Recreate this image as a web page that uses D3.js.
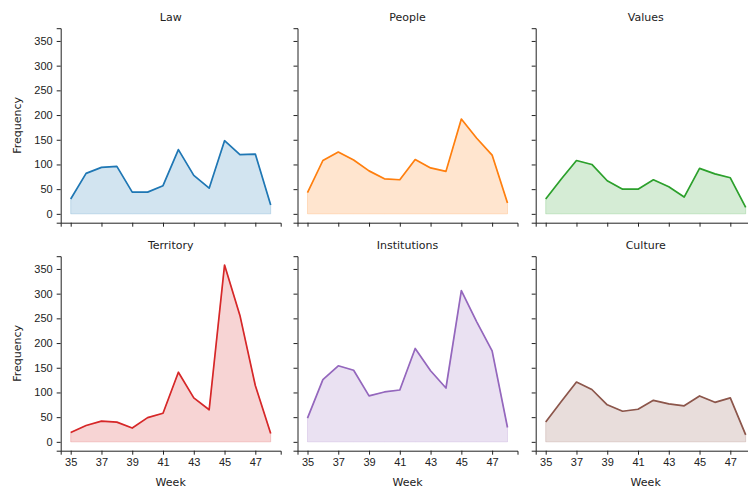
<!DOCTYPE html>
<html>
<head>
<meta charset="utf-8">
<script src="https://cdn.jsdelivr.net/npm/d3@7"></script>
<style>
  body { margin: 0; background: #fff; }
  svg { display: block; font-family: "DejaVu Sans", sans-serif; }
  .tick text { font-size: 11px; fill: #222; }
  .domain, .tick line { stroke: #222; }
</style>
</head>
<body>
<svg id="chart" width="748" height="488"></svg>
<script>
const weeks = [35, 36, 37, 38, 39, 40, 41, 42, 43, 44, 45, 46, 47, 48];
const categories = ["Law", "People", "Values", "Territory", "Institutions", "Culture"];
const colors = ["#1f77b4", "#ff7f0e", "#2ca02c", "#d62728", "#9467bd", "#8c564b"];
const law = [30, 82, 94, 96, 44, 44, 57, 130, 78, 52, 148, 120, 121, 18];
const people = [43, 108, 125, 109, 87, 71, 69, 110, 93, 86, 192, 153, 119, 22];
const values = [30, 70, 108, 100, 67, 50, 50, 69, 55, 34, 92, 81, 73, 13];
const territory = [19, 33, 42, 40, 28, 49, 58, 141, 89, 65, 358, 256, 114, 17];
const institutions = [48, 126, 154, 145, 93, 101, 105, 189, 144, 109, 306, 243, 184, 29];
const culture = [40, 81, 121, 106, 75, 62, 66, 84, 77, 73, 93, 80, 89, 14];
const seriesList = [law, people, values, territory, institutions, culture];
const yTicks = [0, 50, 100, 150, 200, 250, 300, 350];
const xTicks = [35, 37, 39, 41, 43, 45, 47];

const svg = d3.select("#chart");
const colLeft = [60.7, 297.5, 535.7];
const rowTop = [28.2, 256.2];
const W = 220, H = 194.5;

const x = d3.scaleLinear().domain([34.35, 48.65]).range([0, W]);
const y = d3.scaleLinear().domain([-17.9, 375.8]).range([H, 0]);

categories.forEach((cat, i) => {
  const r = Math.floor(i / 3), c = i % 3;
  const g = svg.append("g").attr("transform", `translate(${colLeft[c]},${rowTop[r]})`);
  const data = weeks.map((w, k) => ({ w, v: seriesList[i][k] }));

  g.append("path")
    .datum(data)
    .attr("fill", colors[i])
    .attr("fill-opacity", 0.2)
    .attr("stroke", colors[i])
    .attr("stroke-opacity", 0.2)
    .attr("stroke-width", 1)
    .attr("d", d3.area().x(d => x(d.w)).y0(y(0)).y1(d => y(d.v)));
  g.append("path")
    .datum(data)
    .attr("fill", "none")
    .attr("stroke", colors[i])
    .attr("stroke-width", 1.7)
    .attr("stroke-linejoin", "round")
    .attr("d", d3.line().x(d => x(d.w)).y(d => y(d.v)));

  const ya = d3.axisLeft(y).tickValues(yTicks).tickSizeOuter(0).tickSize(4).tickPadding(4);
  if (c !== 0) ya.tickFormat("");
  g.append("g").call(ya);

  const xa = d3.axisBottom(x).tickValues(xTicks).tickSizeOuter(0).tickSize(4).tickPadding(4).tickFormat(d3.format("d"));
  if (r !== 1) xa.tickFormat("");
  g.append("g").attr("transform", `translate(0,${H})`).call(xa);

  g.selectAll(".domain").attr("stroke-width", 1);
  g.selectAll(".tick line").attr("stroke-width", 1);

  g.append("text")
    .attr("x", W / 2).attr("y", -7)
    .attr("text-anchor", "middle")
    .attr("font-size", 11).attr("fill", "#222")
    .text(cat);

  if (c === 0) {
    g.append("text")
      .attr("transform", `translate(${-40},${H / 2}) rotate(-90)`)
      .attr("text-anchor", "middle")
      .attr("font-size", 11).attr("fill", "#222")
      .text("Frequency");
  }
  if (r === 1) {
    g.append("text")
      .attr("x", W / 2).attr("y", H + 35)
      .attr("text-anchor", "middle")
      .attr("font-size", 11).attr("fill", "#222")
      .text("Week");
  }
});
</script>
</body>
</html>
